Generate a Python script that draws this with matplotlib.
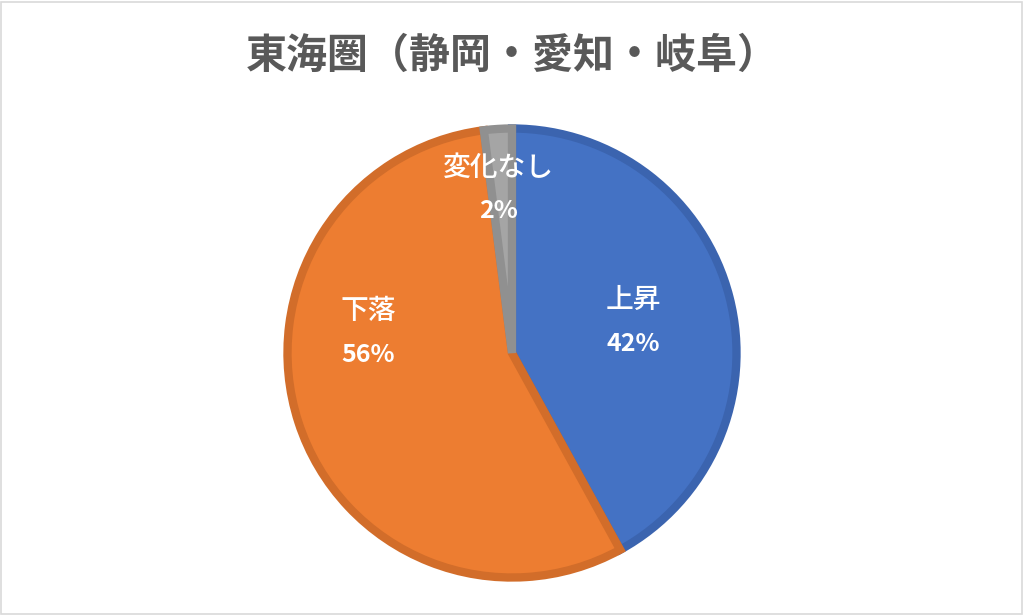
import matplotlib
matplotlib.use('Agg')
import matplotlib.pyplot as plt
from matplotlib.patches import Rectangle

plt.rcParams['font.family'] = ['Noto Sans CJK JP', 'DejaVu Sans']

title = '東海圏（静岡・愛知・岐阜）'
labels = ['上昇', '下落', '変化なし']
values = [42, 56, 2]
colors = ['#4472C4', '#ED7D31', '#A5A5A5']
edge_colors = ['#3B64AF', '#D26D2A', '#909090']
# label centres in data units (pie radius = 1)
label_pos = [(0.54, 0.14), (-0.64, 0.09), (-0.06, 0.73)]

fig = plt.figure(figsize=(10.24, 6.15), dpi=100)
fig.patches.append(Rectangle((0.001, 0.002), 0.997, 0.995, transform=fig.transFigure,
                             fill=False, edgecolor='#D9D9D9', linewidth=1.2))

r_px = 229
cx, cy = 512, 615 - 353
w, h = 2 * r_px / 1024, 2 * r_px / 615
ax = fig.add_axes([cx / 1024 - w / 2, cy / 615 - h / 2, w, h])

wedges, _ = ax.pie(values, colors=colors, startangle=90, counterclock=False,
                   radius=1.0)
for wdg, ec in zip(wedges, edge_colors):
    wdg.set_edgecolor(ec)
    wdg.set_linewidth(6)
    wdg.set_joinstyle('miter')

for lab, v, (x, y) in zip(labels, values, label_pos):
    ax.annotate(lab, (x, y), xytext=(0, 16), textcoords='offset points',
                ha='center', va='center', color='white', fontsize=20,
                fontweight='medium')
    ax.annotate(f'{v}%', (x, y), xytext=(0, -16), textcoords='offset points',
                ha='center', va='center', color='white', fontsize=18,
                fontweight='bold')

ax.set_xlim(-1.02, 1.02)
ax.set_ylim(-1.02, 1.02)
ax.set_aspect('equal')
ax.axis('off')

fig.text(0.5, 1 - 56 / 615, title, ha='center', va='center', fontsize=29.5,
         fontweight='bold', color='#595959')

fig.savefig('out.png', dpi=100)
